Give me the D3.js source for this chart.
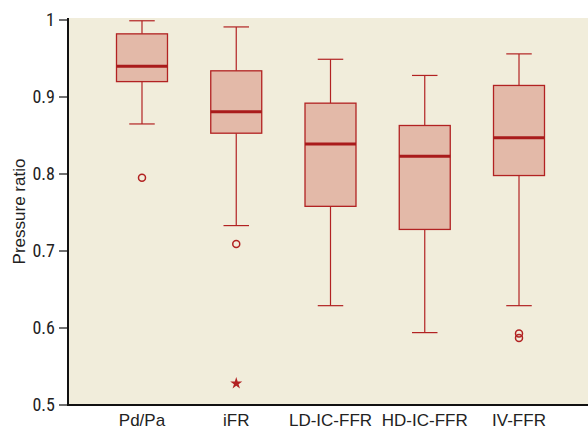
<!DOCTYPE html>
<html>
<head>
<meta charset="utf-8">
<script src="https://cdn.jsdelivr.net/npm/d3@7.9.0/dist/d3.min.js"></script>
<style>
  body { margin: 0; background: #fff; }
  svg { display: block; }
  .tick-label { font-family: "Liberation Sans Narrow", "Roboto Condensed", "Liberation Sans", sans-serif; font-size: 18px; fill: #222; }
  .cat-label { font-family: "Liberation Sans", Arimo, sans-serif; font-size: 17px; fill: #222; }
</style>
</head>
<body>
<svg id="chart" width="588" height="429"></svg>
<script>
// data
const categories = ['Pd/Pa', 'iFR', 'LD-IC-FFR', 'HD-IC-FFR', 'IV-FFR'];
const whiskerLow  = [0.865, 0.733, 0.629, 0.594, 0.629];
const q1          = [0.920, 0.853, 0.758, 0.728, 0.798];
const medians     = [0.940, 0.881, 0.839, 0.823, 0.847];
const q3          = [0.982, 0.934, 0.892, 0.863, 0.915];
const whiskerHigh = [0.999, 0.991, 0.949, 0.928, 0.956];
const outliers = [[0.795], [0.709], [], [], [0.593, 0.587]];
const extremes = [[], [0.528], [], [], []];
const yTicks = [0.5, 0.6, 0.7, 0.8, 0.9, 1];

const margin = { top: 18, right: 0, bottom: 24, left: 68 };
const width = 588, height = 429;
const svg = d3.select('#chart');

const x = d3.scaleBand()
  .domain(categories)
  .range([116.5, 544.5])
  .paddingInner(0.459)
  .paddingOuter(0);

const y = d3.scaleLinear()
  .domain([0.5, 1])
  .range([405, 20]);

const red = '#b22222';

svg.append('rect')
  .attr('x', margin.left)
  .attr('y', margin.top)
  .attr('width', width - margin.left)
  .attr('height', y(0.5) - margin.top)
  .attr('fill', '#f1eddb');

let boxes = svg.append('g');
categories.forEach((c, i) => {
  let cx = x(c) + x.bandwidth() / 2;
  let bw = x.bandwidth();
  let g = boxes.append('g');
  // whisker stems
  g.append('line')
    .attr('x1', cx).attr('x2', cx)
    .attr('y1', y(whiskerHigh[i])).attr('y2', y(q3[i]))
    .attr('stroke', red).attr('stroke-width', 1.2);
  g.append('line')
    .attr('x1', cx).attr('x2', cx)
    .attr('y1', y(q1[i])).attr('y2', y(whiskerLow[i]))
    .attr('stroke', red).attr('stroke-width', 1.2);
  // caps
  [whiskerHigh[i], whiskerLow[i]].forEach((v) => {
    g.append('line')
      .attr('x1', cx - bw / 4).attr('x2', cx + bw / 4)
      .attr('y1', y(v)).attr('y2', y(v))
      .attr('stroke', red).attr('stroke-width', 1.2);
  });
  g.append('rect')
    .attr('x', x(c))
    .attr('y', y(q3[i]))
    .attr('width', bw)
    .attr('height', y(q1[i]) - y(q3[i]))
    .attr('fill', '#e3b9a8')
    .attr('stroke', red)
    .attr('stroke-width', 1.3);
  g.append('line')
    .attr('x1', x(c)).attr('x2', x(c) + bw)
    .attr('y1', y(medians[i])).attr('y2', y(medians[i]))
    .attr('stroke', '#a91b1b').attr('stroke-width', 3);
  outliers[i].forEach((v) => {
    g.append('circle')
      .attr('cx', cx).attr('cy', y(v)).attr('r', 3.5)
      .attr('fill', 'none').attr('stroke', red).attr('stroke-width', 1.5);
  });
  extremes[i].forEach((v) => {
    g.append('path')
      .attr('d', d3.symbol(d3.symbolStar, 45)())
      .attr('transform', `translate(${cx},${y(v)})`)
      .attr('fill', red);
  });
});

// axes
svg.append('line')
  .attr('x1', margin.left).attr('x2', margin.left)
  .attr('y1', margin.top).attr('y2', y(0.5) + 1)
  .attr('stroke', '#111').attr('stroke-width', 2);
svg.append('line')
  .attr('x1', margin.left - 1).attr('x2', width)
  .attr('y1', y(0.5)).attr('y2', y(0.5))
  .attr('stroke', '#111').attr('stroke-width', 2);

let yAxis = svg.append('g');
yTicks.forEach((t) => {
  yAxis.append('line')
    .attr('x1', margin.left - 9).attr('x2', margin.left)
    .attr('y1', y(t)).attr('y2', y(t))
    .attr('stroke', '#111').attr('stroke-width', 1.2);
  yAxis.append('text')
    .attr('class', 'tick-label')
    .attr('x', 55)
    .attr('y', y(t))
    .attr('dy', '0.35em')
    .attr('text-anchor', 'end')
    .text(t === 1 ? '1' : t.toFixed(1));
});

categories.forEach((c) => {
  svg.append('text')
    .attr('class', 'cat-label')
    .attr('x', x(c) + x.bandwidth() / 2)
    .attr('y', 426)
    .attr('text-anchor', 'middle')
    .text(c);
});

svg.append('text')
  .attr('class', 'cat-label')
  .attr('transform', `translate(25, ${(margin.top + y(0.5)) / 2}) rotate(-90)`)
  .attr('text-anchor', 'middle')
  .text('Pressure ratio');
</script>
</body>
</html>
